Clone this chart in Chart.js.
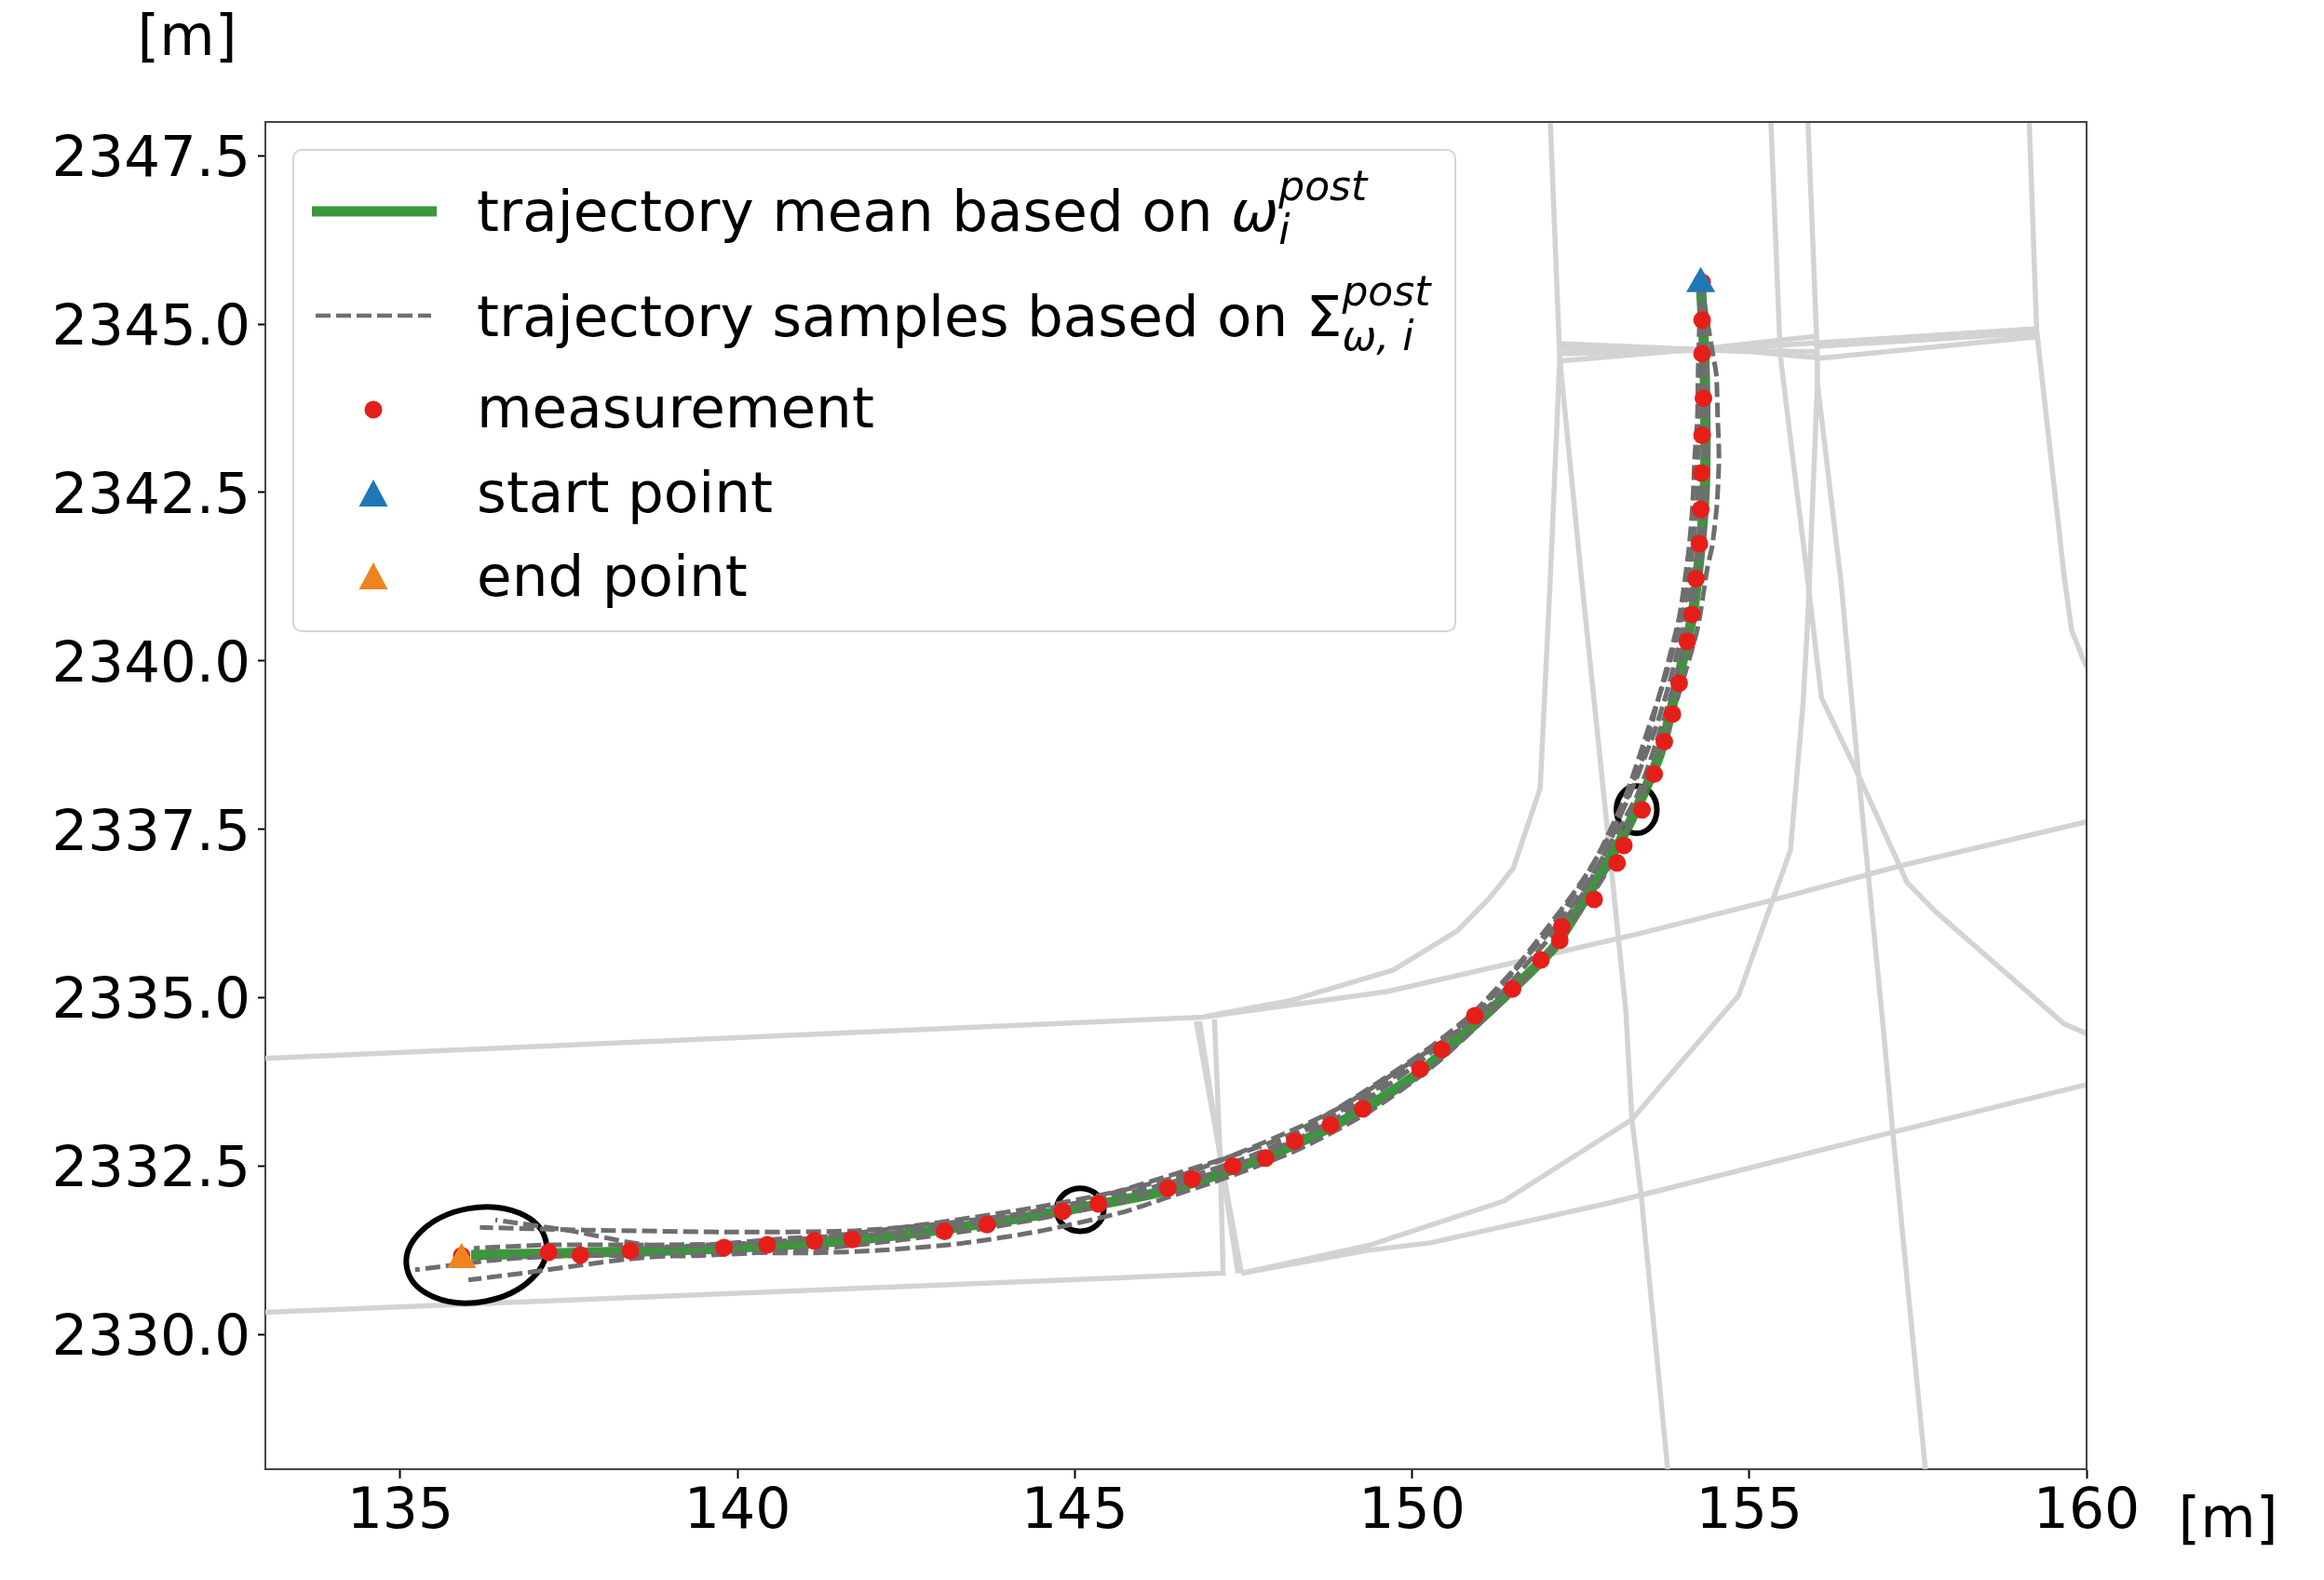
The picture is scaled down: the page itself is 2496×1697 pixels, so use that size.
<!DOCTYPE html>
<html lang="en">
<head>
    <meta charset="UTF-8">
    <title>Trajectory samples</title>
    <script src="https://cdn.jsdelivr.net/npm/chart.js"></script>
    <style>
        body { margin: 0; background-color: #ffffff; }
        canvas { display: block; }
    </style>
</head>
<body>
    <canvas id="trajectoryChart" width="2496" height="1697"></canvas>

    <script>
        const xTicks = [135, 140, 145, 150, 155, 160];
        const yTicks = [2330, 2332.5, 2335, 2337.5, 2340, 2342.5, 2345, 2347.5];
        const unitLabel = '[m]';

        // Road map in the background, one polyline per entry: [x, y]
        const roads = [
            [[133, 2334.10], [146.89, 2334.71], [149.63, 2335.09], [151.64, 2335.55], [153.36, 2335.95], [155.35, 2336.45], [157.25, 2336.96], [160, 2337.61]],
            [[133, 2330.33], [145.63, 2330.84], [147.20, 2330.91], [147.15, 2332.77], [147.07, 2334.68]],
            [[146.80, 2334.65], [147.47, 2330.91]],
            [[146.85, 2334.65], [147.42, 2330.91]],
            [[147.47, 2330.91], [149.35, 2331.25], [150.27, 2331.36], [152.96, 2331.96], [153.40, 2332.07], [156.91, 2332.95], [160, 2333.71]],
            [[147.47, 2330.91], [149.35, 2331.32], [151.36, 2331.98], [153.26, 2333.19], [153.64, 2333.64], [154.84, 2335.03], [155.61, 2337.19], [155.80, 2339.41], [155.87, 2340.69], [156.01, 2344.12], [156.01, 2344.49], [155.87, 2348]],
            [[155.32, 2348], [155.46, 2344.53], [155.87, 2341.17], [156.07, 2339.45], [156.62, 2338.30], [157.34, 2336.71], [157.77, 2336.27], [159.67, 2334.61], [160, 2334.47]],
            [[156.01, 2344.12], [156.36, 2341.17], [156.62, 2338.30], [156.98, 2334.61], [157.13, 2332.98], [157.61, 2328]],
            [[152.05, 2348], [152.19, 2344.49], [152.05, 2341.24], [151.90, 2338.11], [151.50, 2336.92], [151.15, 2336.48], [150.67, 2335.99], [149.72, 2335.41], [148.21, 2334.96], [146.94, 2334.72]],
            [[152.19, 2344.49], [152.51, 2341.24], [152.88, 2337.65], [153.17, 2334.79], [153.26, 2333.19], [153.40, 2332.04], [153.79, 2328]],
            [[159.15, 2348], [159.26, 2344.91], [159.67, 2341.24], [159.78, 2340.45], [160, 2339.90]],
            [[152.19, 2344.71], [155.02, 2344.59], [156.01, 2344.50]],
            [[152.19, 2344.45], [154.29, 2344.63], [156.01, 2344.82]],
            [[152.19, 2344.56], [154.29, 2344.61], [159.26, 2344.93]],
            [[156.01, 2344.49], [159.26, 2344.81]],
            [[152.19, 2344.64], [156.01, 2344.59]],
            [[156.01, 2344.67], [159.26, 2344.87]]
        ];

        const meanX = [154.28, 154.33, 154.35, 154.34, 154.27, 154.16, 153.91, 153.69, 153.47, 153.19, 152.82, 152.45, 152.09, 151.40, 150.75, 150.11, 149.27, 148.26, 147.34, 146.33, 145.35, 143.70, 141.70, 139.80, 138.41, 136.05];
        const meanY = [2345.64, 2344.61, 2343.47, 2342.54, 2341.63, 2340.70, 2339.56, 2338.67, 2338.12, 2337.52, 2336.87, 2336.28, 2335.73, 2335.04, 2334.44, 2333.89, 2333.34, 2332.82, 2332.45, 2332.13, 2331.93, 2331.65, 2331.40, 2331.28, 2331.23, 2331.18];

        const sampleA = [[154.28, 2345.64], [154.24, 2344.25], [154.23, 2343.60], [154.19, 2343.01], [154.16, 2342.32], [154.10, 2341.63], [153.97, 2340.70], [153.83, 2340.11], [153.65, 2339.43], [153.41, 2338.53], [153.28, 2338.21], [152.86, 2337.15], [152.31, 2336.28], [151.67, 2335.59], [150.93, 2334.80], [150.29, 2334.28], [149.51, 2333.75], [148.77, 2333.28], [148.08, 2332.92], [147.02, 2332.55], [144.81, 2331.90], [143.07, 2331.65], [141.73, 2331.54], [140.14, 2331.52], [137.77, 2331.55], [136.18, 2331.59]];
        const sampleB = [[154.28, 2345.64], [154.45, 2344.61], [154.51, 2344.25], [154.53, 2343.65], [154.55, 2343.01], [154.52, 2342.32], [154.45, 2341.71], [154.38, 2341.39], [154.23, 2340.47], [153.97, 2339.56], [153.72, 2338.77], [153.26, 2337.66], [152.82, 2336.76], [151.99, 2335.62], [151.30, 2334.90], [150.33, 2334.00], [149.37, 2333.31], [148.30, 2332.74], [147.25, 2332.33], [146.33, 2332.02], [145.69, 2331.81], [144.51, 2331.54], [143.30, 2331.35], [142.12, 2331.25], [141.09, 2331.21], [139.74, 2331.21], [138.39, 2331.12], [136.96, 2330.93], [136.01, 2330.81]];
        const sampleC = [[154.28, 2345.64], [154.28, 2344.25], [154.27, 2343.60], [154.24, 2343.01], [154.23, 2342.36], [154.06, 2340.94], [153.79, 2339.87], [153.54, 2339.11], [153.17, 2338.01], [152.68, 2336.97], [152.13, 2336.14], [151.44, 2335.31], [150.75, 2334.62], [149.78, 2333.86], [148.81, 2333.24], [147.71, 2332.69], [146.33, 2332.23], [144.81, 2331.91], [142.88, 2331.55], [140.80, 2331.43], [139.02, 2331.30], [138.39, 2331.37], [137.52, 2331.54], [136.41, 2331.70]];
        const sampleD = [[154.28, 2345.64], [154.33, 2344.25], [154.33, 2343.01], [154.28, 2342.08], [154.13, 2340.98], [153.85, 2339.80], [153.58, 2338.91], [153.10, 2337.73], [152.54, 2336.76], [151.85, 2335.84], [151.02, 2334.83], [149.92, 2333.90], [148.81, 2333.17], [147.57, 2332.58], [145.78, 2332.00], [143.70, 2331.58], [141.49, 2331.30], [139.42, 2331.17], [137.63, 2331.17], [136.56, 2331.12], [135.22, 2330.96]];
        const sampleE = [[154.28, 2345.64], [154.37, 2344.25], [154.38, 2342.91], [154.31, 2341.67], [154.13, 2340.63], [153.85, 2339.53], [153.37, 2338.08], [152.92, 2337.25], [152.41, 2336.35], [151.72, 2335.52], [151.02, 2334.76], [149.92, 2334.00], [148.95, 2333.38], [147.99, 2332.93], [146.47, 2332.33], [144.67, 2331.93], [142.60, 2331.61], [140.46, 2331.37], [138.95, 2331.33], [137.20, 2331.33], [136.09, 2331.28]];

        const measX = [154.30, 154.30, 154.30, 154.32, 154.30, 154.29, 154.28, 154.26, 154.21, 154.15, 154.08, 153.96, 153.86, 153.74, 153.59, 153.41, 153.14, 153.04, 152.70, 152.22, 152.19, 151.91, 151.49, 150.93, 150.44, 150.12, 149.27, 148.79, 148.26, 147.83, 147.34, 146.74, 146.38, 145.35, 144.82, 143.70, 143.07, 141.70, 141.14, 140.44, 139.80, 138.41, 137.67, 137.20, 135.91];
        const measY = [2345.62, 2345.06, 2344.56, 2343.90, 2343.35, 2342.79, 2342.25, 2341.74, 2341.22, 2340.69, 2340.29, 2339.67, 2339.21, 2338.80, 2338.32, 2337.79, 2337.26, 2337.00, 2336.46, 2336.05, 2335.85, 2335.56, 2335.13, 2334.73, 2334.23, 2333.94, 2333.35, 2333.11, 2332.87, 2332.62, 2332.50, 2332.31, 2332.17, 2331.94, 2331.83, 2331.63, 2331.53, 2331.41, 2331.39, 2331.33, 2331.29, 2331.24, 2331.18, 2331.22, 2331.17];

        const startPoint = [154.28, 2345.60];
        const endPoint = [135.91, 2331.11];

        // Black ellipses drawn around the spread of the samples, in data units
        const ellipseX = [136.13, 145.08, 153.33];
        const ellipseY = [2331.18, 2331.85, 2337.79];
        const ellipseRx = [1.05, 0.35, 0.30];
        const ellipseRy = [0.70, 0.32, 0.35];

        const FONT = '"DejaVu Sans"';
        const GREEN = 'rgba(44, 143, 44, 0.93)';
        const GRAY = '#6e6e6e';
        const RED = '#e61e19';
        const BLUE = '#1f77b4';
        const ORANGE = '#ee8420';
        const ROAD = '#d3d3d3';

        const toPoints = pairs => pairs.map(p => ({ x: p[0], y: p[1] }));

        const datasets = [];
        datasets.push({
            label: 'mean',
            data: meanX.map((x, i) => ({ x: x, y: meanY[i] })),
            showLine: true, borderColor: GREEN, borderWidth: 11, pointRadius: 0, tension: 0.25, order: 4
        });
        [sampleA, sampleB, sampleC, sampleD, sampleE].forEach((s, i) => {
            datasets.push({
                label: 'sample ' + i,
                data: toPoints(s),
                showLine: true, borderColor: GRAY, borderWidth: 5, borderDash: [16, 6], pointRadius: 0, tension: 0.25, order: 3
            });
        });
        datasets.push({
            label: 'measurement',
            data: measX.map((x, i) => ({ x: x, y: measY[i] })),
            showLine: false, pointRadius: 9.5, pointBackgroundColor: RED, pointBorderWidth: 0, order: 2
        });
        datasets.push({
            label: 'start point',
            data: toPoints([startPoint]),
            showLine: false, pointStyle: 'triangle', pointRadius: 18, pointBackgroundColor: BLUE, pointBorderWidth: 0, order: 1
        });
        datasets.push({
            label: 'end point',
            data: toPoints([endPoint]),
            showLine: false, pointStyle: 'triangle', pointRadius: 18, pointBackgroundColor: ORANGE, pointBorderWidth: 0, order: 1
        });
        roads.forEach((r, i) => {
            datasets.push({
                label: 'road ' + i,
                data: toPoints(r),
                showLine: true, borderColor: ROAD, borderWidth: 5.5, pointRadius: 0, tension: 0, order: 50
            });
        });

        // Ellipses go above the roads but under the trajectories
        const ellipsePlugin = {
            id: 'ellipses',
            beforeDatasetDraw(chart, args) {
                if (args.index !== 0) return;
                const c = chart.ctx, sx = chart.scales.x, sy = chart.scales.y;
                c.save();
                c.strokeStyle = '#000000';
                c.lineWidth = 6;
                ellipseX.forEach((x, i) => {
                    const rx = Math.abs(sx.getPixelForValue(x + ellipseRx[i]) - sx.getPixelForValue(x));
                    const ry = Math.abs(sy.getPixelForValue(ellipseY[i] + ellipseRy[i]) - sy.getPixelForValue(ellipseY[i]));
                    c.beginPath();
                    c.ellipse(sx.getPixelForValue(x), sy.getPixelForValue(ellipseY[i]), rx, ry, i === 0 ? -0.18 : 0, 0, Math.PI * 2);
                    c.stroke();
                });
                c.restore();
            }
        };

        // Chart.js centres labels on the em box, the digits of the reference sit a bit lower
        const tickShiftPlugin = {
            id: 'tickShift',
            beforeDraw(chart) {
                chart.scales.y.getLabelItems().forEach(item => {
                    item.options.translation = [item.options.translation[0], item.options.translation[1] + 6];
                });
            }
        };

        function triangle(c, x, y, color) {
            c.fillStyle = color;
            c.beginPath();
            c.moveTo(x, y - 18);
            c.lineTo(x + 15.5, y + 11);
            c.lineTo(x - 15.5, y + 11);
            c.closePath();
            c.fill();
        }

        // Legend and unit labels, the legend needs sub/superscripts so it is drawn by hand
        const legendPlugin = {
            id: 'mathLegend',
            afterDraw(chart) {
                const c = chart.ctx, a = chart.chartArea;
                c.save();

                // top and right frame lines
                c.strokeStyle = '#444444';
                c.lineWidth = 2;
                c.beginPath();
                c.moveTo(a.left, a.top);
                c.lineTo(a.right, a.top);
                c.lineTo(a.right, a.bottom);
                c.stroke();

                c.fillStyle = 'rgba(255, 255, 255, 0.8)';
                c.strokeStyle = '#d4d4d4';
                c.beginPath();
                c.roundRect(315, 161, 1248, 517, 9);
                c.fill();
                c.stroke();

                c.lineWidth = 11;
                c.strokeStyle = GREEN;
                c.beginPath();
                c.moveTo(335, 227);
                c.lineTo(469, 227);
                c.stroke();

                c.lineWidth = 4.5;
                c.strokeStyle = GRAY;
                c.setLineDash([16, 6]);
                c.beginPath();
                c.moveTo(339, 339);
                c.lineTo(463, 339);
                c.stroke();
                c.setLineDash([]);

                c.fillStyle = RED;
                c.beginPath();
                c.arc(401, 440, 9.5, 0, Math.PI * 2);
                c.fill();
                triangle(c, 401, 533, BLUE);
                triangle(c, 401, 622, ORANGE);

                c.fillStyle = '#000000';
                c.textBaseline = 'alphabetic';
                c.textAlign = 'left';
                c.font = '61.2px ' + FONT;
                const line1 = 'trajectory mean based on ';
                const line2 = 'trajectory samples based on ';
                const textX = 512;
                c.fillText(line1, textX, 248);
                c.fillText(line2, textX, 361);
                c.fillText('measurement', textX, 459);
                c.fillText('start point', textX, 550);
                c.fillText('end point', textX, 640);

                const end1 = textX + c.measureText(line1).width;
                const end2 = textX + c.measureText(line2).width;
                c.fillText('\u03A3', end2, 361);
                const sigma = c.measureText('\u03A3').width;
                c.font = 'italic 61.2px ' + FONT;
                c.fillText('\u03C9', end1, 248);
                const omega = c.measureText('\u03C9').width;
                c.font = 'italic 44px ' + FONT;
                c.fillText('post', end1 + omega, 215);
                c.fillText('i', end1 + omega, 262);
                c.fillText('post', end2 + sigma, 328);
                c.fillText('\u03C9, i', end2 + sigma, 376);

                c.font = '61px ' + FONT;
                c.textAlign = 'center';
                c.fillText(unitLabel, 201, 59);
                c.fillText(unitLabel, 2393, 1651);
                c.restore();
            }
        };

        const ctx = document.getElementById('trajectoryChart').getContext('2d');
        new Chart(ctx, {
            type: 'scatter',
            data: { datasets: datasets },
            plugins: [ellipsePlugin, tickShiftPlugin, legendPlugin],
            options: {
                responsive: false,
                animation: false,
                layout: { padding: { top: 131, right: 255, left: 0, bottom: 0 } },
                plugins: { legend: { display: false }, tooltip: { enabled: false } },
                scales: {
                    x: {
                        type: 'linear', min: 133, max: 160,
                        afterBuildTicks: s => { s.ticks = xTicks.map(v => ({ value: v })); },
                        afterFit: s => { s.height = 119; },
                        ticks: { color: '#000000', font: { family: FONT, size: 60 }, autoSkip: false, maxRotation: 0, padding: 1, callback: v => String(v) },
                        grid: { drawOnChartArea: false, tickLength: 10, tickColor: '#000000', tickWidth: 2 },
                        border: { color: '#444444', width: 2 }
                    },
                    y: {
                        type: 'linear', min: 2328, max: 2348,
                        afterBuildTicks: s => { s.ticks = yTicks.map(v => ({ value: v })); },
                        afterFit: s => { s.width = 285; },
                        ticks: { color: '#000000', font: { family: FONT, size: 61 }, autoSkip: false, maxRotation: 0, padding: 8, callback: v => v.toFixed(1) },
                        grid: { drawOnChartArea: false, tickLength: 8, tickColor: '#000000', tickWidth: 2 },
                        border: { color: '#444444', width: 2 }
                    }
                }
            }
        });
    </script>
</body>
</html>
